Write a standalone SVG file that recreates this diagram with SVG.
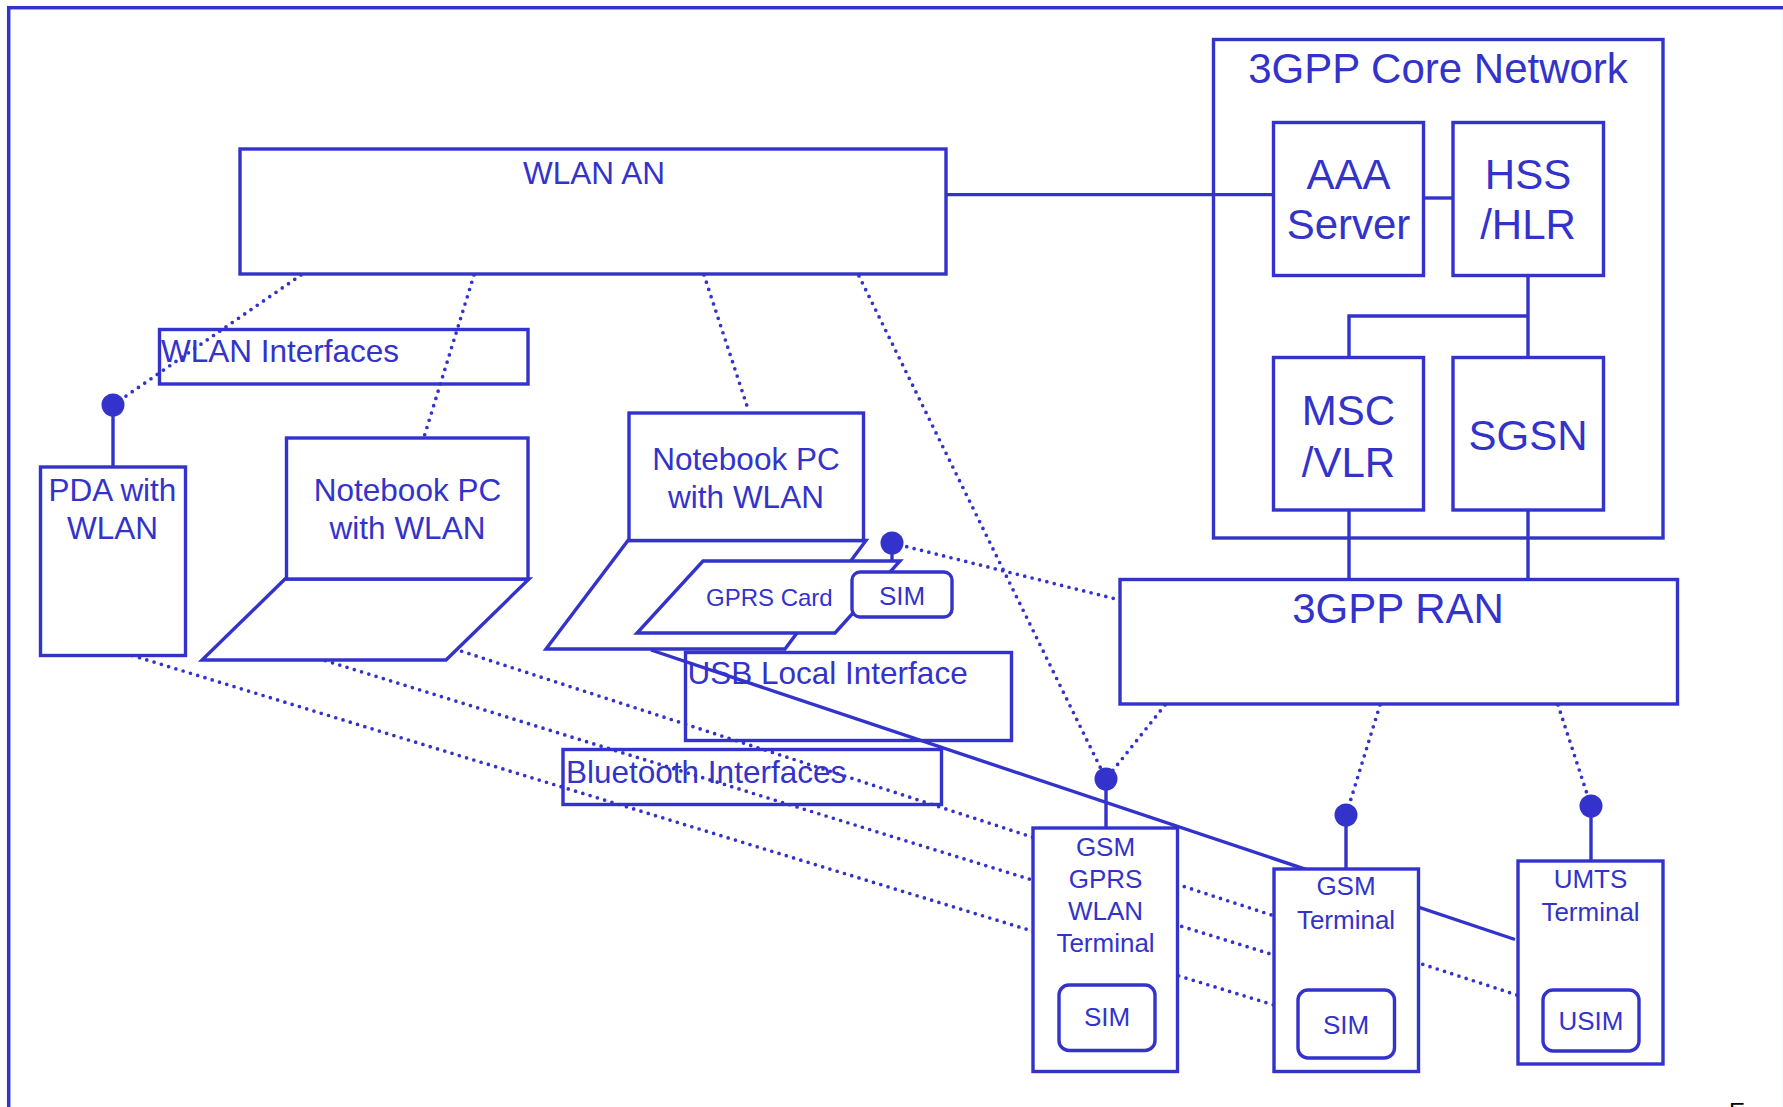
<svg xmlns="http://www.w3.org/2000/svg" width="1783" height="1107" viewBox="0 0 1783 1107">
  <defs>
    <style>
      .frame { fill: none; stroke: #3333cc; stroke-width: 3.5; }
      .box { fill: #ffffff; stroke: #3333cc; stroke-width: 3.4; stroke-linejoin: miter; }
      .label { fill: none; stroke: #3333cc; stroke-width: 3.4; }
      .solid { fill: none; stroke: #3333cc; stroke-width: 3.4; }
      .dotted { fill: none; stroke: #3333cc; stroke-width: 3.7; stroke-linecap: round; stroke-dasharray: 0 7.6; }
      .dot { fill: #3333cc; stroke: none; }
      text { font-family: "Liberation Sans", Arial, Helvetica, sans-serif; fill: #3333cc; }
      .t31 { font-size: 31.5px; }
      .t42 { font-size: 42px; }
      .t26 { font-size: 26px; }
      .t24 { font-size: 24px; }
      .mid { text-anchor: middle; }
    </style>
  </defs>

  <rect width="1783" height="1107" fill="#ffffff"/>

  <!-- outer frame, runs off the right and bottom edges -->
  <rect class="frame" x="8.7" y="7.7" width="1776" height="1150"/>

  <!-- core network container (transparent, lines cross its border) -->
  <g id="core-network">
    <rect class="label" x="1213.5" y="39.5" width="449.5" height="498.5"/>
    <text class="t42 mid" x="1438" y="83">3GPP Core Network</text>
  </g>

  <!-- connectors -->
  <g id="connectors">
    <!-- WLAN access links -->
    <line class="dotted" x1="301" y1="275" x2="113" y2="405"/>
    <line class="dotted" x1="474" y1="275" x2="424" y2="437"/>
    <line class="dotted" x1="704" y1="275" x2="749" y2="412"/>
    <line class="dotted" x1="859" y1="276" x2="1106" y2="779"/>

    <!-- 3GPP radio links -->
    <line class="dotted" x1="892" y1="543" x2="1120" y2="600"/>
    <line class="dotted" x1="1165" y1="705" x2="1106" y2="779"/>
    <line class="dotted" x1="1380" y1="705" x2="1346" y2="815"/>
    <line class="dotted" x1="1558" y1="705" x2="1591" y2="806"/>

    <!-- Bluetooth links -->
    <line class="dotted" x1="440" y1="644.2" x2="1530" y2="999.2"/>
    <line class="dotted" x1="318" y1="658.3" x2="1290" y2="960"/>
    <line class="dotted" x1="125" y1="653.2" x2="1290" y2="1009.9"/>

    <!-- USB link -->
    <line class="solid" x1="651" y1="650" x2="1515" y2="939.5"/>

    <!-- core network wiring -->
    <line class="solid" x1="946" y1="194.6" x2="1274" y2="194.6"/>
    <line class="solid" x1="1423.6" y1="198" x2="1453" y2="198"/>
    <line class="solid" x1="1528" y1="275.7" x2="1528" y2="357"/>
    <polyline class="solid" points="1528,316 1349,316 1349,357"/>
    <line class="solid" x1="1349" y1="510" x2="1349" y2="580"/>
    <line class="solid" x1="1528" y1="510" x2="1528" y2="580"/>

    <!-- antenna stems and dots -->
    <line class="solid" x1="113" y1="405" x2="113" y2="467"/>
    <circle class="dot" cx="113" cy="405" r="11.5"/>
    <line class="solid" x1="892" y1="543" x2="892" y2="562"/>
    <circle class="dot" cx="892" cy="543" r="11.5"/>
    <line class="solid" x1="1106" y1="779" x2="1106" y2="828"/>
    <circle class="dot" cx="1106" cy="779" r="11.5"/>
    <line class="solid" x1="1346" y1="815" x2="1346" y2="869"/>
    <circle class="dot" cx="1346" cy="815" r="11.5"/>
    <line class="solid" x1="1591" y1="806" x2="1591" y2="861"/>
    <circle class="dot" cx="1591" cy="806" r="11.5"/>
  </g>

  <g id="wlan-an">
    <rect class="box" x="240" y="149" width="706" height="125"/>
    <text class="t31 mid" x="594" y="183.5">WLAN AN</text>
  </g>

  <g id="wlan-interfaces">
    <rect class="label" x="159.5" y="329.5" width="368.5" height="54.5"/>
    <text class="t31" x="161" y="361.7">WLAN Interfaces</text>
  </g>

  <g id="aaa-server">
    <rect class="box" x="1273.5" y="122.5" width="150" height="153"/>
    <text class="t42 mid" x="1348.5" y="188.5">AAA</text>
    <text class="t42 mid" x="1348.5" y="238.5">Server</text>
  </g>

  <g id="hss-hlr">
    <rect class="box" x="1453" y="122.5" width="150.5" height="153"/>
    <text class="t42 mid" x="1528" y="188.5">HSS</text>
    <text class="t42 mid" x="1528" y="238.5">/HLR</text>
  </g>

  <g id="msc-vlr">
    <rect class="box" x="1273.5" y="357.5" width="150" height="152.5"/>
    <text class="t42 mid" x="1348.5" y="424.5">MSC</text>
    <text class="t42 mid" x="1348.5" y="476.5">/VLR</text>
  </g>

  <g id="sgsn">
    <rect class="box" x="1453" y="357.5" width="150.5" height="152.5"/>
    <text class="t42 mid" x="1528" y="450">SGSN</text>
  </g>

  <g id="ran">
    <rect class="box" x="1120" y="579.5" width="557.5" height="124.5"/>
    <text class="t42 mid" x="1398" y="623">3GPP RAN</text>
  </g>

  <g id="pda">
    <rect class="box" x="40.5" y="467" width="145" height="188.5"/>
    <text class="t31 mid" x="112.5" y="500.7">PDA with</text>
    <text class="t31 mid" x="112.5" y="539.3">WLAN</text>
  </g>

  <g id="notebook-1">
    <polygon class="box" points="285,579 529,579 446,660 202,660"/>
    <rect class="box" x="286.5" y="438" width="241.5" height="141"/>
    <text class="t31 mid" x="407.5" y="500.7">Notebook PC</text>
    <text class="t31 mid" x="407.5" y="539.3">with WLAN</text>
  </g>

  <g id="notebook-2">
    <polygon class="box" points="628,540.5 866,540.5 785,649 546,649"/>
    <rect class="box" x="629" y="413" width="234.5" height="127.5"/>
    <text class="t31 mid" x="746" y="470">Notebook PC</text>
    <text class="t31 mid" x="746" y="507.5">with WLAN</text>
  </g>

  <g id="gprs-card">
    <polygon class="box" points="703,561 900,561 835,633 637,633"/>
    <text class="t24" x="706" y="606">GPRS Card</text>
    <rect class="box" x="852" y="572" width="100" height="45" rx="8" ry="8"/>
    <text class="t26 mid" x="902" y="605">SIM</text>
  </g>

  <g id="usb-interface">
    <rect class="label" x="685.5" y="652.5" width="326" height="88"/>
    <text class="t31" x="687.5" y="684">USB Local Interface</text>
  </g>

  <g id="bluetooth-interfaces">
    <rect class="label" x="563" y="749.5" width="378.5" height="55"/>
    <text class="t31" x="566" y="783">Bluetooth Interfaces</text>
  </g>

  <g id="gsm-gprs-wlan-terminal">
    <rect class="box" x="1033" y="828" width="144.5" height="243.5"/>
    <text class="t26 mid" x="1105.5" y="855.5">GSM</text>
    <text class="t26 mid" x="1105.5" y="887.5">GPRS</text>
    <text class="t26 mid" x="1105.5" y="919.5">WLAN</text>
    <text class="t26 mid" x="1105.5" y="951.5">Terminal</text>
    <rect class="box" x="1059" y="985" width="96" height="65.5" rx="10" ry="10"/>
    <text class="t26 mid" x="1107" y="1026">SIM</text>
  </g>

  <g id="gsm-terminal">
    <rect class="box" x="1274" y="869" width="144.5" height="202.5"/>
    <text class="t26 mid" x="1346" y="895">GSM</text>
    <text class="t26 mid" x="1346" y="929">Terminal</text>
    <rect class="box" x="1298" y="990" width="96.5" height="68" rx="10" ry="10"/>
    <text class="t26 mid" x="1346" y="1034">SIM</text>
  </g>

  <g id="umts-terminal">
    <rect class="box" x="1518" y="861" width="145" height="203"/>
    <text class="t26 mid" x="1590.5" y="887.5">UMTS</text>
    <text class="t26 mid" x="1590.5" y="920.5">Terminal</text>
    <rect class="box" x="1543" y="990" width="96" height="61" rx="10" ry="10"/>
    <text class="t26 mid" x="1591" y="1030">USIM</text>
  </g>

  <!-- page mark cut by the lower edge -->
  <text x="1729" y="1120" style="font-size:24px; fill:#000000;">E</text>
</svg>
